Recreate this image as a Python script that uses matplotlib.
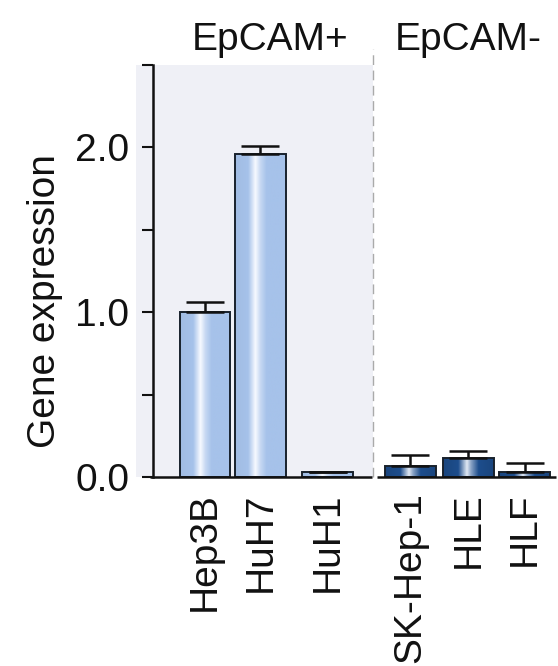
import numpy as np
import matplotlib
matplotlib.use("Agg")
import matplotlib.pyplot as plt
from matplotlib.colors import LinearSegmentedColormap, to_rgb

plt.rcParams['font.family'] = ['Liberation Sans', 'DejaVu Sans']

# ---- data ----
cell_lines = ["Hep3B", "HuH7", "HuH1", "SK-Hep-1", "HLE", "HLF"]
expression = [1.0, 1.96, 0.03, 0.065, 0.115, 0.03]
errors = [0.06, 0.05, 0.0, 0.07, 0.04, 0.055]
groups = ["EpCAM+", "EpCAM-"]
group_of = [0, 0, 0, 1, 1, 1]
y_ticks = [0.0, 0.5, 1.0, 1.5, 2.0, 2.5]
y_tick_labels = ["0.0", "", "1.0", "", "2.0", ""]
y_label = "Gene expression"

# ---- layout ----
positions = [0.0, 0.98, 2.17, 3.63, 4.66, 5.66]
bar_width = 0.9
divider_x = 2.97
xlim = (-0.92, 6.21)
ylim = (0, 2.5)
group_colors = ["#a6c2ea", "#1d4d8c"]
text_color = "#111111"

fig = plt.figure(figsize=(5.58, 6.66), dpi=100)
ax = fig.add_axes([153/558, 1 - 477/666, (556 - 153)/558, (477 - 65)/666])
ax.set_xlim(*xlim)
ax.set_ylim(*ylim)

# shaded EpCAM+ region
ax.axvspan(xlim[0] - 0.3, divider_x, ymin=0, ymax=1, color="#eff0f6", zorder=0,
           clip_on=False, lw=0)

bars = ax.bar(positions, expression, width=bar_width,
              color=[group_colors[g] for g in group_of],
              edgecolor="#18212c", linewidth=1.4, zorder=3)

# gradient fill inside each bar
for b, g in zip(bars, group_of):
    base = np.array(to_rgb(group_colors[g]))
    white = np.array([0.97, 0.98, 1.0])
    if g == 0:
        stops = [(0.0, base * 0.97), (0.26, base), (0.40, white),
                 (0.5, base * 0.6 + white * 0.4), (0.62, base), (1.0, base)]
    else:
        stops = [(0.0, base * 0.9), (0.3, base), (0.47, white * 0.9 + base * 0.1),
                 (0.55, base * 0.5 + white * 0.5), (0.7, base), (1.0, base * 0.9)]
    cmap = LinearSegmentedColormap.from_list("grad", [(p, tuple(np.clip(c, 0, 1))) for p, c in stops])
    x0, w, h = b.get_x(), b.get_width(), b.get_height()
    grad = np.linspace(0, 1, 256).reshape(1, -1)
    im = ax.imshow(grad, cmap=cmap, aspect="auto", extent=(x0, x0 + w, 0, h),
                   zorder=3.5, interpolation="bilinear")
    im.set_clip_path(b)
    b.set_facecolor("none")
    b.set_zorder(4)

ax.set_xlim(*xlim)
ax.set_ylim(*ylim)

# error bars (upper only)
ax.errorbar(positions, expression, yerr=[np.zeros(len(errors)), errors],
            fmt="none", ecolor=text_color, elinewidth=1.8, capsize=13.5,
            capthick=1.8, zorder=5)

# divider
ax.plot([divider_x, divider_x], [0, 2.6], ls=(0, (7, 4)), color="#aaaaaa",
        lw=1.0, clip_on=False, zorder=2)

# spines
for s in ["top", "right", "bottom"]:
    ax.spines[s].set_visible(False)
ax.spines["left"].set_linewidth(1.8)
ax.spines["left"].set_color(text_color)
ax.plot([xlim[0] - 0.05, divider_x - 0.02], [0, 0], color=text_color, lw=1.8,
        clip_on=False, zorder=6, solid_capstyle="butt")
ax.plot([divider_x + 0.08, xlim[1]], [0, 0], color=text_color, lw=1.8,
        clip_on=False, zorder=6, solid_capstyle="butt")

ax.set_yticks(y_ticks)
ax.set_yticklabels(y_tick_labels)
ax.tick_params(axis="y", length=8, width=1.5, color=text_color, labelsize=28,
               pad=9, labelcolor=text_color)
ax.set_xticks(positions)
ax.set_xticklabels(cell_lines, rotation=90, fontsize=28, color=text_color, va="top")
ax.tick_params(axis="x", length=0, pad=11)

fig.text(45/558, 1 - 301/666, y_label, rotation=90, fontsize=28,
         ha="center", va="center", color=text_color)

fig.text(270/558, 1 - 40/666, groups[0], fontsize=28, ha="center", va="center",
         color=text_color)
fig.text(468/558, 1 - 40/666, groups[1], fontsize=28, ha="center", va="center",
         color=text_color)

fig.savefig("out.png", dpi=100)
